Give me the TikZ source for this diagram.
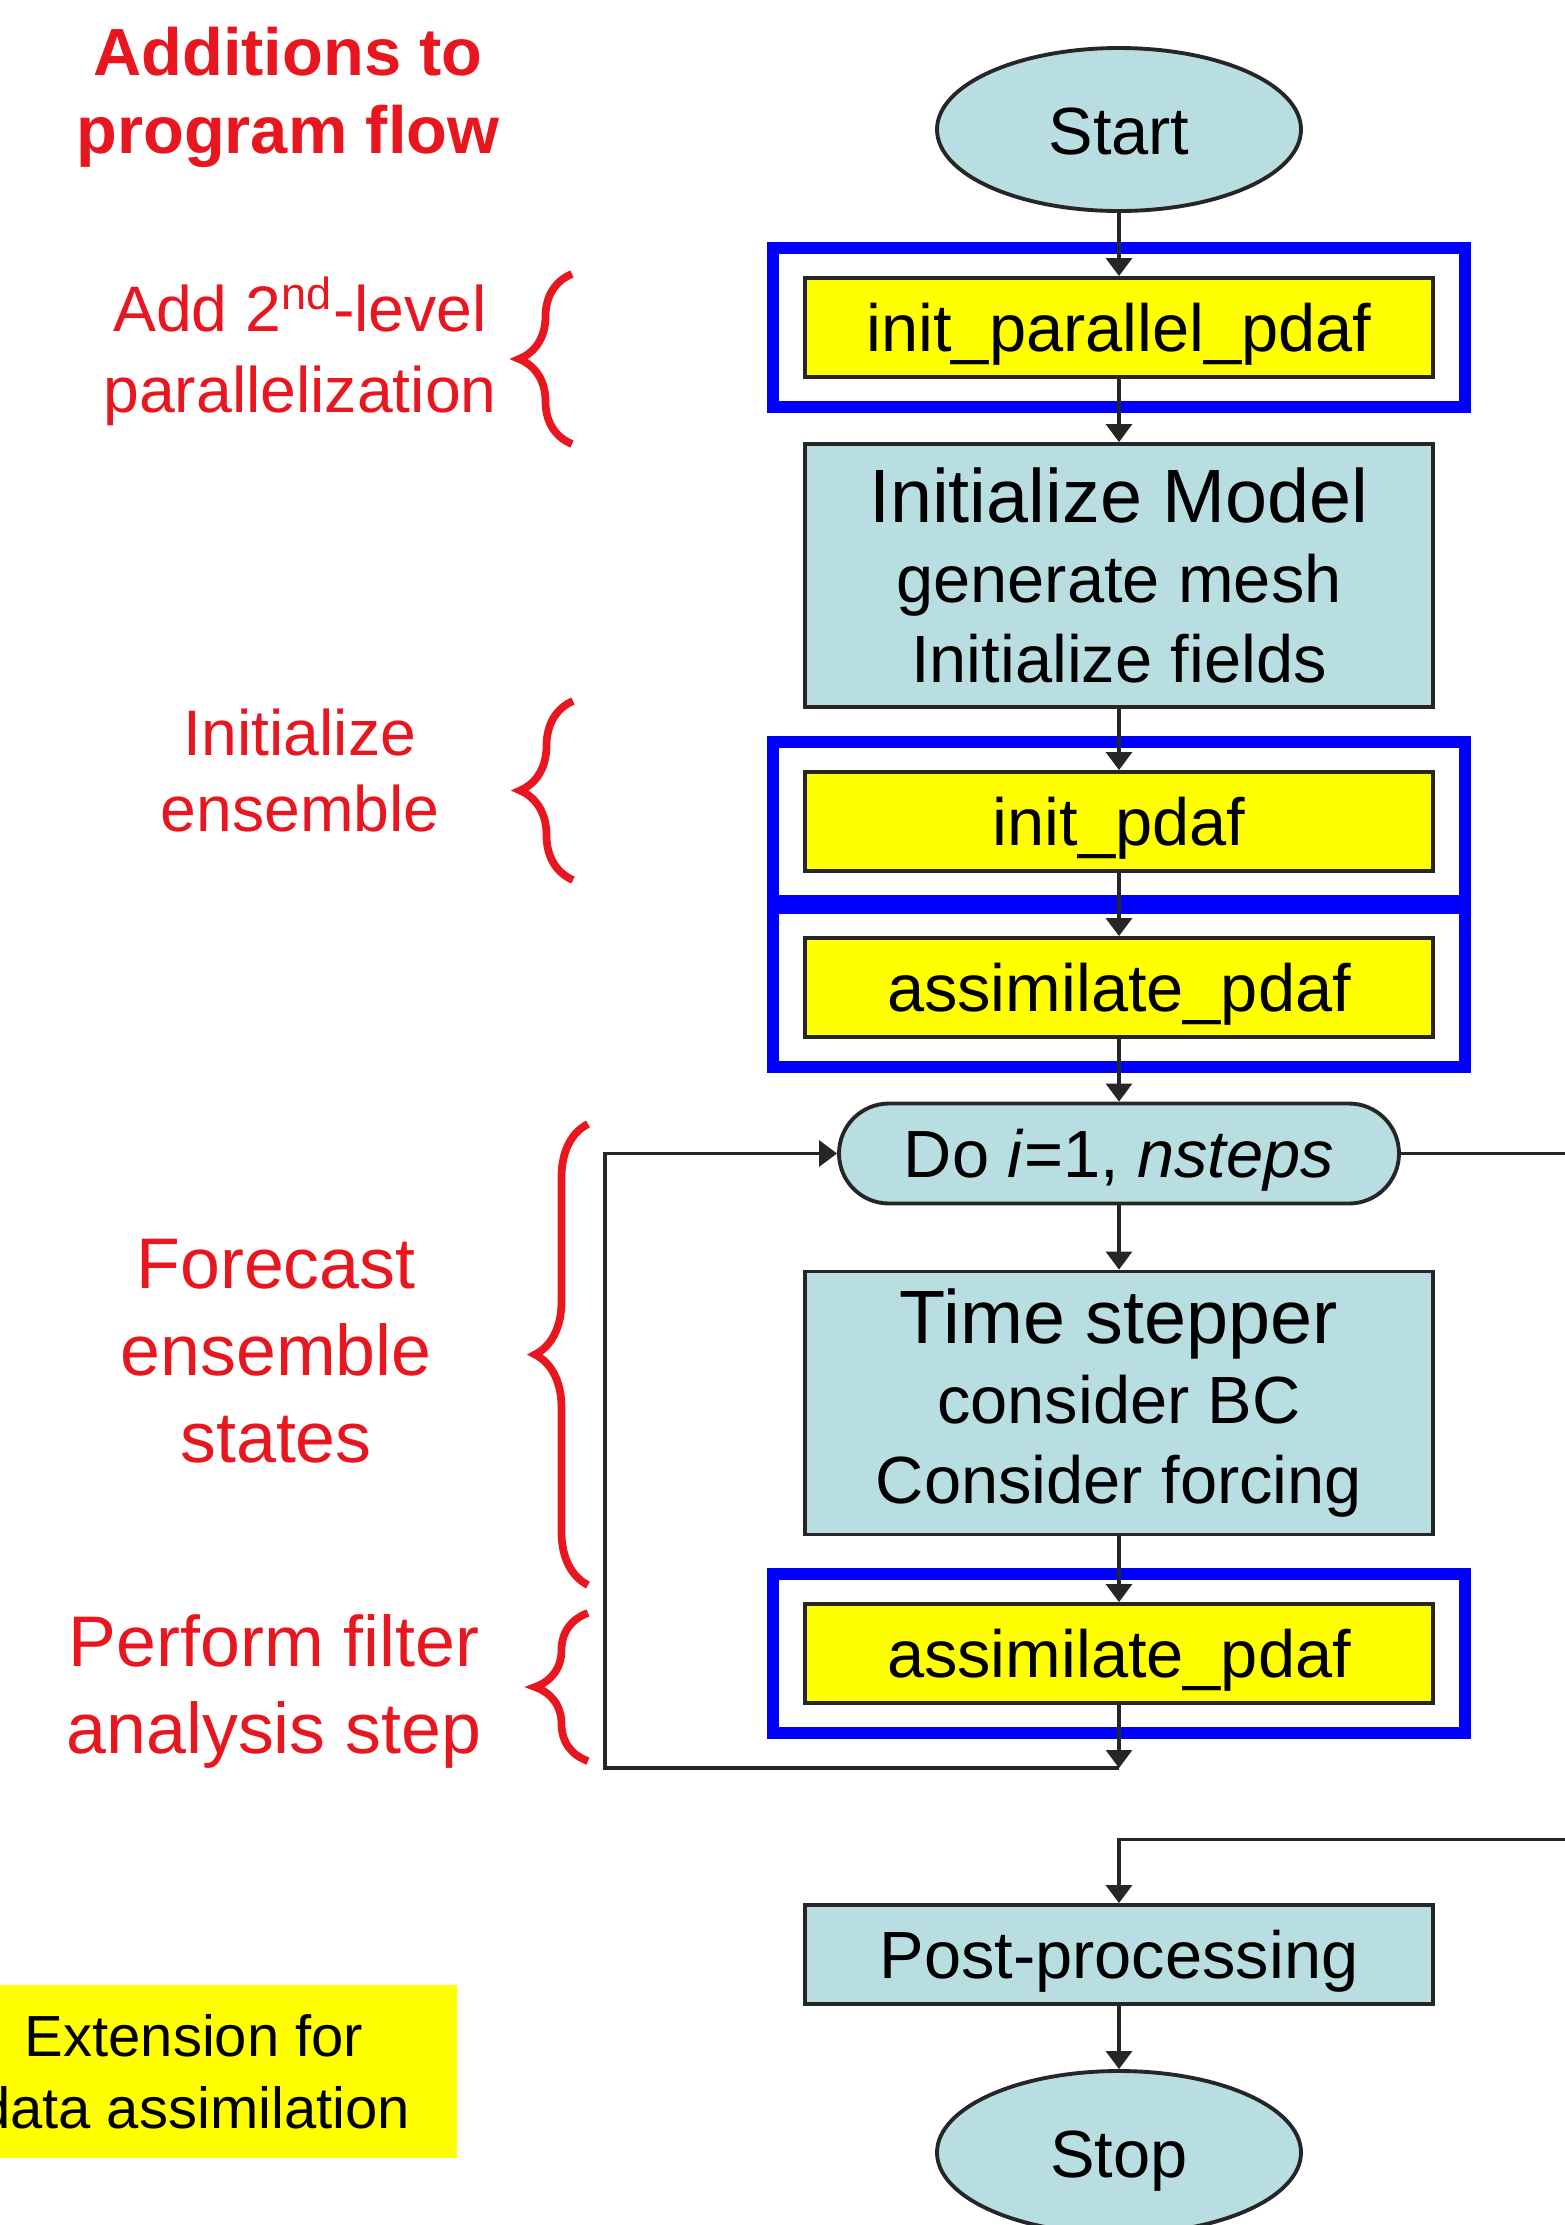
\documentclass[tikz,border=0pt]{standalone}
\usepackage{fontspec}
\setmainfont{Liberation Sans}
\usetikzlibrary{
	positioning,
	arrows.meta,
	shapes.geometric,
	fit,
	decorations.pathreplacing
}
\definecolor{pdafblue}{RGB}{185,222,226}
\definecolor{pdafred}{RGB}{232,22,30}
\definecolor{pdafyellow}{RGB}{255,255,0}

\begin{document}
\begin{tikzpicture}[x=1cm,y=-1cm,
	flowbox/.style={draw=black!85,line width=1.1pt,fill=pdafblue,minimum width=6.28cm,align=center,font=\fontsize{19}{22.8}\selectfont},
	callbox/.style={draw=black!85,line width=1.1pt,fill=pdafyellow,minimum width=6.28cm,minimum height=0.99cm,text height=0.6cm,text depth=0.12cm,font=\fontsize{19}{22.8}\selectfont},
	endpoint/.style={ellipse,draw=black!85,line width=1.1pt,fill=pdafblue,minimum width=3.64cm,minimum height=1.63cm,text height=0.5cm,text depth=0cm,font=\fontsize{19}{22.8}\selectfont},
	loopbox/.style={rectangle,rounded corners=0.5cm,draw=black!85,line width=1.1pt,fill=pdafblue,minimum width=5.6cm,minimum height=1.0cm,text height=0.6cm,text depth=0.12cm,font=\fontsize{19}{22.8}\selectfont},
	pdafframe/.style={draw=blue,line width=3.4pt,inner xsep=0.3cm,inner ysep=0.28cm},
	remark/.style={text=pdafred,align=center},
	flow/.style={draw=black!85,line width=0.9pt,-{Triangle[length=0.18cm,width=0.26cm]}},
	curly/.style={draw=pdafred,line width=2.2pt,decorate,decoration={brace,amplitude=0.53cm}}
	]

	\useasboundingbox (0,0) rectangle (15.65,22.25);
	\clip (0,0) rectangle (15.65,22.25);

	\node[endpoint] (start) at (11.19,1.295) {Start};
	\node[callbox] (initpar) at (11.19,3.275) {init\_parallel\_pdaf};
	\node[flowbox,minimum height=2.63cm] (initmodel) at (11.19,5.755) {{\fontsize{21.5}{22.8}\selectfont Initialize Model}\\generate mesh\\Initialize fields};
	\node[callbox] (initpdaf) at (11.19,8.215) {init\_pdaf};
	\node[callbox] (assim) at (11.19,9.875) {assimilate\_pdaf};
	\node[loopbox] (doloop) at (11.19,11.535) {Do \textit{i}=1, \textit{nsteps}};
	\node[flowbox,minimum height=2.63cm] (stepper) at (11.19,14.03) {{\fontsize{21.5}{22.8}\selectfont Time stepper}\\consider BC\\Consider forcing};
	\node[callbox] (assimloop) at (11.19,16.535) {assimilate\_pdaf};
	\node[flowbox,minimum height=0.99cm,text height=0.6cm,text depth=0.12cm] (post) at (11.19,19.545) {Post-processing};
	\node[endpoint] (stop) at (11.19,21.525) {Stop};

	\node[pdafframe,fit=(initpar)] (fpar) {};
	\node[pdafframe,fit=(initpdaf)] (finit) {};
	\node[pdafframe,fit=(assim)] (fassim) {};
	\node[pdafframe,fit=(assimloop)] (floop) {};

	\coordinate (jn) at (11.19,17.68);
	\coordinate (lc) at (6.05,17.68);
	\coordinate (ex1) at (15.9,11.535);
	\coordinate (ex2) at (15.9,18.395);

	\draw[flow] (start) -- (initpar);
	\draw[flow] (initpar) -- (initmodel);
	\draw[flow] (initmodel) -- (initpdaf);
	\draw[flow] (initpdaf) -- (assim);
	\draw[flow] (assim) -- (doloop);
	\draw[flow] (doloop) -- (stepper);
	\draw[flow] (stepper) -- (assimloop);
	\draw[flow] (assimloop) -- (jn);
	\draw[flow] (jn) -- (lc) |- (doloop.west);
	\draw[draw=black!85,line width=0.9pt] (doloop) -- (ex1);
	\draw[flow] (ex2) -| (post);
	\draw[flow] (post) -- (stop);

	\node[remark,font=\bfseries\fontsize{19}{22}\selectfont] (ltitle) at (2.88,0.975) {Additions to\\program flow};
	\node[remark,font=\fontsize{18.3}{23}\selectfont] (lpar) at (3.0,3.51) {Add 2\textsuperscript{nd}-level\\parallelization};
	\node[remark,font=\fontsize{18.3}{21.9}\selectfont] (lens) at (3.0,7.705) {Initialize\\ensemble};
	\node[remark,font=\fontsize{20.4}{24.75}\selectfont] (lfore) at (2.76,13.51) {Forecast\\ensemble\\states};
	\node[remark,font=\fontsize{20.4}{25}\selectfont] (lfilt) at (2.74,16.915) {Perform filter\\analysis step};
	\node[fill=pdafyellow,minimum width=5.26cm,minimum height=1.73cm,align=center,font=\fontsize{16.5}{20.5}\selectfont] (lext) at (1.94,20.715) {Extension for\\data assimilation};

	\draw[curly] (5.72,4.44) -- (5.72,2.74);
	\draw[curly] (5.73,8.80) -- (5.73,7.01);
	\draw[curly] (5.88,15.85) -- (5.88,11.24);
	\draw[curly] (5.88,17.61) -- (5.88,16.13);

\end{tikzpicture}
\end{document}
